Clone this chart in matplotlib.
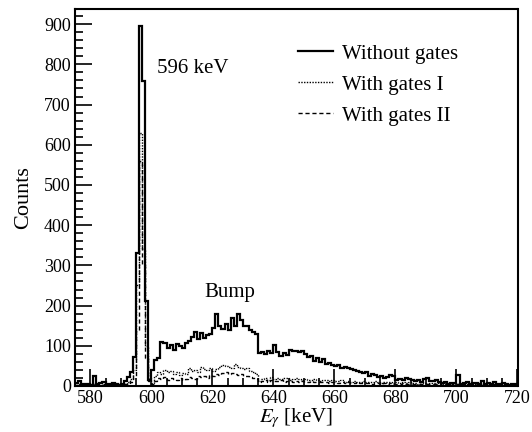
import numpy as np
import matplotlib
matplotlib.use('Agg')
import matplotlib.pyplot as plt
from matplotlib.ticker import MultipleLocator

plt.rcParams['font.family'] = ['Liberation Serif', 'DejaVu Serif']
plt.rcParams['mathtext.fontset'] = 'stix'

# Bin edges 575..720 keV, 1 keV bins
edges = np.arange(575, 721, 1)

# Spectrum without gates (575 .. 719)
without_gates = [
    8, 12, 5, 4, 6, 3, 24, 5, 7, 10, 6, 4, 7, 5, 3,              # 575-589
    6, 12, 22, 35, 72, 330, 895, 758, 212, 15,                    # 590-599
    40, 65, 70, 110, 108, 95, 102, 90, 105, 100,                  # 600-609
    95, 108, 112, 122, 135, 118, 132, 120, 128, 130,              # 610-619
    145, 180, 150, 142, 155, 140, 170, 150, 178, 165,             # 620-629
    148, 150, 140, 135, 130, 82, 85, 80, 86, 82,                  # 630-639
    102, 85, 75, 82, 78, 90, 88, 86, 85, 88,                      # 640-649
    80, 72, 75, 62, 70, 60, 66, 55, 58, 52,                       # 650-659
    50, 52, 45, 48, 44, 42, 40, 38, 35, 32,                       # 660-669
    34, 25, 30, 28, 22, 26, 20, 22, 27, 25,                       # 670-679
    15, 18, 16, 20, 18, 14, 12, 14, 10, 18,                       # 680-689
    20, 12, 12, 14, 10, 8, 10, 6, 8, 8,                           # 690-699
    28, 6, 8, 10, 5, 8, 7, 6, 12, 5,                              # 700-709
    8, 6, 10, 4, 6, 8, 5, 3, 4, 6,                                # 710-719
]

# With gates I
gates_1 = [
    3, 5, 2, 3, 4, 2, 6, 3, 2, 4, 3, 2, 4, 3, 2,
    4, 5, 10, 18, 40, 250, 630, 340, 100, 20,
    8, 25, 35, 30, 40, 35, 38, 30, 35, 28,
    32, 30, 45, 38, 40, 35, 48, 42, 40, 45,
    38, 42, 48, 52, 50, 48, 45, 55, 48, 45,
    42, 44, 38, 36, 30, 12, 18, 20, 16, 22,
    18, 20, 17, 21, 19, 16, 18, 20, 17, 15,
    18, 16, 14, 17, 15, 13, 16, 14, 12, 15,
    13, 12, 14, 11, 12, 10, 13, 11, 10, 12,
    10, 11, 9, 12, 10, 8, 11, 9, 10, 8,
    9, 7, 10, 8, 9, 7, 8, 6, 9, 7,
    6, 8, 7, 6, 8, 5, 7, 6, 5, 7,
    6, 5, 7, 4, 6, 5, 6, 4, 5, 4,
    5, 4, 6, 3, 5, 4, 3, 4, 5, 3,
]

# With gates II
gates_2 = [
    2, 3, 1, 2, 3, 1, 4, 2, 1, 3, 2, 1, 3, 2, 1,
    3, 4, 6, 10, 25, 140, 560, 300, 70, 12,
    5, 12, 20, 18, 22, 15, 20, 18, 14, 20,
    16, 18, 22, 20, 18, 24, 22, 25, 20, 28,
    26, 30, 28, 32, 34, 30, 32, 30, 28, 30,
    26, 24, 22, 20, 18, 10, 12, 14, 11, 15,
    13, 12, 14, 10, 13, 12, 11, 13, 10, 12,
    11, 10, 12, 9, 11, 10, 9, 11, 8, 10,
    9, 8, 10, 7, 9, 8, 7, 9, 8, 7,
    8, 7, 6, 8, 7, 6, 7, 5, 7, 6,
    6, 5, 7, 5, 6, 4, 6, 5, 4, 6,
    5, 4, 6, 4, 5, 3, 5, 4, 3, 5,
    4, 3, 5, 3, 4, 3, 4, 3, 4, 3,
    4, 3, 4, 2, 4, 3, 2, 3, 4, 2,
]

labels = ['Without gates', 'With gates I', 'With gates II']

fig = plt.figure(figsize=(5.32, 4.32), dpi=100)
ax = fig.add_axes([75/532, 1 - 386/432, (517.5 - 75)/532, (386 - 9.3)/432])

ax.stairs(without_gates, edges, color='black', lw=1.6, label=labels[0])
ax.stairs(gates_1, edges, color='black', lw=1.0, linestyle=(0, (1, 1)), label=labels[1])
ax.stairs(gates_2, edges, color='black', lw=1.0, linestyle=(0, (3, 2)), label=labels[2])

ax.set_xlim(575, 720)
ax.set_ylim(0, 937)

ax.xaxis.set_major_locator(MultipleLocator(20))
ax.xaxis.set_minor_locator(MultipleLocator(5))
ax.yaxis.set_major_locator(MultipleLocator(100))
ax.yaxis.set_minor_locator(MultipleLocator(20))
ax.tick_params(which='both', direction='in', top=False, right=False, labelsize=13)
ax.tick_params(which='major', length=12, width=1.2)
ax.tick_params(which='minor', length=6, width=1.2)
ax.tick_params(axis='x', pad=3)
ax.tick_params(axis='y', pad=3)
for s in ax.spines.values():
    s.set_linewidth(1.5)

ax.set_xlabel(r'$E_{\gamma}$ [keV]', fontsize=15, labelpad=-1)
ax.set_ylabel('Counts', fontsize=16, labelpad=8)

ax.text(602, 790, '596 keV', fontsize=15, va='center', ha='left')
ax.text(617.5, 232, 'Bump', fontsize=15, va='center', ha='left')

ax.legend(loc='upper left', bbox_to_anchor=(298/532, 1 - 44/432),
          bbox_transform=fig.transFigure, frameon=False, fontsize=15,
          handlelength=1.7, handletextpad=0.4, labelspacing=0.55,
          borderpad=0, borderaxespad=0)

fig.savefig('out.png', dpi=100)
